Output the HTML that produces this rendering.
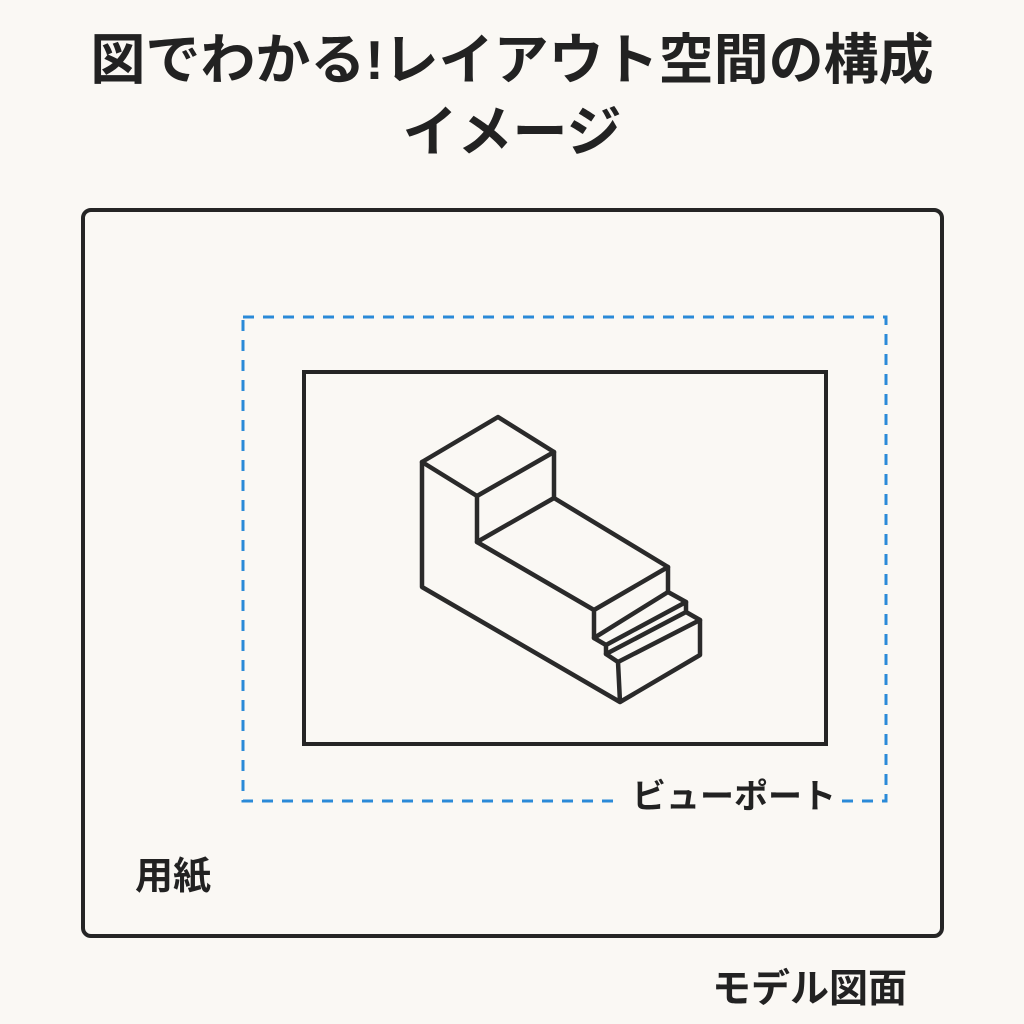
<!DOCTYPE html>
<html><head><meta charset="utf-8"><style>
body{margin:0;width:1024px;height:1024px;background:#faf8f4;overflow:hidden;font-family:"Liberation Sans","Noto Sans CJK JP",sans-serif;color:#222;}
.t{position:absolute;left:0;width:1024px;text-align:center;font-weight:bold;font-size:55px;line-height:70px;}
.l{position:absolute;font-size:34px;font-weight:bold;white-space:nowrap;line-height:1;}
</style></head><body>
<div class="t" style="top:25px">図でわかる!レイアウト空間の構成</div>
<div class="t" style="top:97px">イメージ</div>
<svg width="1024" height="1024" style="position:absolute;left:0;top:0">
<rect x="83" y="210" width="859" height="726" rx="8" fill="none" stroke="#252525" stroke-width="4"/>
<rect x="243" y="317" width="643" height="484" fill="none" stroke="#2a8ad8" stroke-width="3" stroke-dasharray="11,9"/>
<rect x="620" y="780" width="220" height="40" fill="#faf8f4"/>
<rect x="304" y="372" width="522" height="372" fill="none" stroke="#252525" stroke-width="4"/>
<g fill="none" stroke="#2a2a2a" stroke-width="4.5" stroke-linejoin="round" stroke-linecap="round">
<polygon points="422,462 498,417 554,452 477,496"/>
<polyline points="477,496 477,542 554,498 554,452"/>
<polyline points="422,462 422,587 620,702 700,655 700,620 686,612 686,602 668,592 668,567 594,610 594,638 606,645 606,654 618,662 620,702"/>
<line x1="477" y1="542" x2="594" y2="610"/>
<line x1="554" y1="498" x2="668" y2="567"/>
<line x1="606" y1="645" x2="686" y2="602"/>
<line x1="594" y1="638" x2="668" y2="592"/>
<line x1="606" y1="654" x2="686" y2="612"/>
<line x1="618" y1="662" x2="700" y2="620"/>
</g>
</svg>
<div class="l" style="left:632px;top:780px">ビューポート</div>
<div class="l" style="left:135px;top:858px;font-size:38px">用紙</div>
<div class="l" style="left:712px;top:970px;font-size:39px">モデル図面</div>
</body></html>
